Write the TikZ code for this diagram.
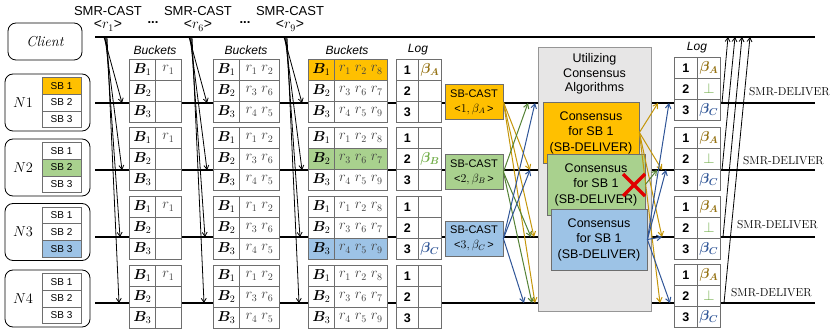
\documentclass[tikz,border=0pt]{standalone}
\usepackage{amsmath}
\usepackage{bm}
\usepackage{fontspec}
\newfontfamily\sansfnt{Liberation Sans}
\usetikzlibrary{
  arrows.meta,
  positioning
}
\definecolor{sb1}{RGB}{255, 192, 0}
\definecolor{sb2}{RGB}{169, 209, 142}
\definecolor{sb3}{RGB}{157, 195, 230}
\definecolor{betaA}{RGB}{150, 115, 20}
\definecolor{betaB}{RGB}{112, 173, 71}
\definecolor{betaC}{RGB}{47, 85, 151}
\definecolor{arrA}{RGB}{196, 150, 10}
\definecolor{arrB}{RGB}{84, 130, 53}
\definecolor{arrC}{RGB}{47, 85, 151}
\definecolor{utilfill}{RGB}{231, 230, 230}
\definecolor{utildraw}{RGB}{150, 150, 150}
\definecolor{tabgray}{RGB}{110, 110, 110}
\definecolor{reqgray}{RGB}{65, 65, 65}
\definecolor{crossred}{RGB}{225, 0, 0}
\tikzset{
  % time lines of the client and the nodes
  timeline/.style   = {line width=1.6pt, black},
  % arrows
  castarrow/.style  = {-{Straight Barb[length=4pt,width=5pt]}, line width=0.8pt, black},
  sbarrow/.style    = {-{Straight Barb[length=4.5pt,width=5.5pt]}, line width=1pt},
  % boxes
  roundbox/.style   = {draw=black, rounded corners=8pt, fill=white, line width=0.8pt},
  sbcell/.style     = {draw=tabgray, fill=white, minimum width=39pt, minimum height=16.7pt,
                       inner sep=0pt, font=\sansfnt\fontsize{10}{12}\selectfont},
  cell/.style       = {draw=tabgray, fill=white, minimum height=21pt, inner sep=0pt,
                       anchor=north west, line width=0.8pt, font=\fontsize{14}{16}\selectfont},
  valcell/.style    = {cell, font=\fontsize{14.4}{16}\selectfont},
  numcell/.style    = {cell, font=\sansfnt\bfseries\fontsize{12.5}{14}\selectfont},
  castbox/.style    = {draw=tabgray, line width=0.8pt, minimum width=58pt, minimum height=35pt,
                       align=center, inner sep=1pt, font=\sansfnt\fontsize{11}{15}\selectfont},
  consbox/.style    = {draw=tabgray, line width=0.8pt, minimum width=96pt, minimum height=61pt,
                       align=center, inner sep=1pt, font=\sansfnt\fontsize{12.5}{15.5}\selectfont},
  % labels
  headlab/.style    = {font=\sansfnt\fontsize{13}{15}\selectfont, inner sep=0pt},
  tablab/.style     = {font=\sansfnt\itshape\fontsize{12}{14}\selectfont, inner sep=0pt},
  dellab/.style     = {font=\fontsize{11.5}{13}\selectfont, inner sep=0pt, anchor=west},
}
\newcommand\betacell[1]{\ifcase#1\or\textcolor{betaA}{$\bm{\beta}_{\bm{A}}$}\or
  \textcolor{betaB}{$\bm{\beta}_{\bm{B}}$}\or\textcolor{betaC}{$\bm{\beta}_{\bm{C}}$}\fi}

\begin{document}
\begin{tikzpicture}[x=1pt, y=-1pt]
  \useasboundingbox (0,0) rectangle (831,331);
  % Client line
  \coordinate (cls) at (95,37);
  \coordinate (cle) at (815,37);
  \draw[timeline] (cls) -- (cle);
  \node[roundbox, minimum width=74pt, minimum height=37pt,
        font=\itshape\fontsize{14.4}{16}\selectfont] (client) at (45,41.5) {Client};

  % Header texts
  \foreach \h/\x/\r in {a/108/1, b/198/6, c/290/9} {
    \node[headlab] (cast\h) at (\x,11) {SMR-CAST};
    \node[headlab, font=\sansfnt\fontsize{14}{15}\selectfont] (req\h) at (\x,26) {<$r_\r$>};
  }
  \node[headlab] (dotsa) at (153,23) {\textbf{...}};
  \node[headlab] (dotsb) at (245,23) {\textbf{...}};

  % Nodes N1 ... N4 with their tables
  \foreach \n/\ly/\ty/\cy/\ry in {1/103/59/102.5/57, 2/170/127/167.5/127,
                                  3/237/196/232/196, 4/303/265/298.5/264} {
    \coordinate (l\n s) at (95,\ly);
    \coordinate (l\n e) at (815,\ly);
    \draw[timeline] (l\n s) -- (l\n e);
    \node[roundbox, minimum width=85pt, minimum height=57pt] (nb\n) at (47.5,\cy) {};
    \node[font=\fontsize{14.4}{16}\selectfont] (nl\n) at (23,\cy) {$N\n$};
    \foreach \r in {1,2,3} {
      \ifnum\n=\r \def\hl{sb\n}\else\def\hl{white}\fi
      \pgfmathsetmacro\sy{\cy-25+16.7*(\r-0.5)}
      \node[sbcell, fill=\hl] (sb\n\r) at (61.5,\sy) {SB \r};
    }
    \foreach \r/\va/\vb/\vc in {1/r_1/r_1\;r_2/r_1\;r_2\;r_8,
                                2//r_3\;r_6/r_3\;r_6\;r_7,
                                3//r_4\;r_5/r_4\;r_5\;r_9} {
      \ifnum\n=\r \def\hl{sb\n}\else\def\hl{white}\fi
      \pgfmathsetmacro\yy{\ty+21*(\r-1)}
      \pgfmathsetmacro\yr{\ry+21*(\r-1)}
      % buckets after r1, r6 and r9
      \node[cell, minimum width=26pt] (ta\n\r) at (129,\yy) {$\bm{B}_\r$};
      \node[valcell, minimum width=26pt] (tav\n\r) at (155,\yy) {\textcolor{reqgray}{$\va$}};
      \node[cell, minimum width=26pt] (tb\n\r) at (213,\yy) {$\bm{B}_\r$};
      \node[valcell, minimum width=40pt] (tbv\n\r) at (239,\yy) {\textcolor{reqgray}{$\vb$}};
      \node[cell, minimum width=26pt, fill=\hl] (tc\n\r) at (308,\yy) {$\bm{B}_\r$};
      \node[valcell, minimum width=53pt, fill=\hl] (tcv\n\r) at (334,\yy) {\textcolor{reqgray}{$\vc$}};
      % logs
      \node[numcell, minimum width=22pt] (lg\n\r) at (396,\yy) {\r};
      \node[valcell, minimum width=23pt] (lgv\n\r) at (418,\yy) {\ifnum\n=\r\betacell{\n}\fi};
      \node[numcell, minimum width=23pt] (rl\n\r) at (674,\yr) {\r};
      \node[valcell, minimum width=23pt] (rlv\n\r) at (697,\yr)
        {\ifcase\r\or\betacell{1}\or\textcolor{betaB}{$\bot$}\or\betacell{3}\fi};
    }
  }
  \node[tablab] (bkta) at (155,50) {Buckets};
  \node[tablab] (bktb) at (246,50) {Buckets};
  \node[tablab] (bktc) at (347,50) {Buckets};
  \node[tablab] (loga) at (418,50) {Log};
  \node[tablab] (logb) at (697,48) {Log};

  % SB-CAST boxes
  \foreach \n/\cy/\g in {1/102/A, 2/172/B, 3/238.5/C}
    \node[castbox, fill=sb\n] (sbc\n) at (474,\cy)
      {SB-CAST\\<{\fontsize{12}{15}\selectfont$\n, \beta_\g$}\,>};

  % Consensus part
  \node[draw=utildraw, fill=utilfill, line width=0.8pt, minimum width=113pt,
        minimum height=264pt] (util) at (594.5,179) {};
  \node[font=\sansfnt\fontsize{12.5}{14.5}\selectfont, align=center] (utiltxt)
    at (594.5,74) {Utilizing\\Consensus\\Algorithms};
  \node[consbox, fill=sb1] (consA) at (591,132.5) {Consensus\\for SB 1\\(SB-DELIVER)};
  \node[consbox, fill=sb2, minimum width=98pt] (consB) at (596,184.5) {Consensus\\for SB 1\\(SB-DELIVER)};
  \node[consbox, fill=sb3] (consC) at (599,239.5) {Consensus\\for SB 1\\(SB-DELIVER)};

  % SMR-CAST arrows from the client
  \foreach \g/\xs in {a/104, b/189, c/284}
    \foreach \n/\ly/\ds/\de in {1/103/0/18, 2/170/1/18, 3/237/2/16, 4/303/3/15} {
      \coordinate (s\g\n) at (\xs+\ds,37);
      \coordinate (e\g\n) at (\xs+\de,\ly);
      \draw[castarrow] (s\g\n) -- (e\g\n);
    }

  % SB-CAST arrows
  \foreach \s/\d/\xe/\ye/\col in {1/2/530/170/arrA, 1/3/534/237/arrA, 1/4/535/303/arrA,
                                  2/1/528/103/arrB, 2/3/531/237/arrB, 2/4/532/303/arrB,
                                  3/1/535/103/arrC, 3/2/530/170/arrC, 3/4/524/303/arrC} {
    \coordinate (sbe\s\d) at (\xe,\ye);
    \draw[sbarrow, \col] (sbc\s.east) -- (sbe\s\d);
  }

  % SB-DELIVER arrows
  \foreach \s/\d/\xe/\ye/\col in {A/1/658/103/arrA, A/2/662/170/arrA, A/3/662/237/arrA,
                                  A/4/660/303/arrA, B/2/657/170/arrB,
                                  C/1/669/103/arrC, C/2/666/170/arrC, C/3/662/237/arrC,
                                  C/4/670/303/arrC} {
    \coordinate (cde\s\d) at (\xe,\ye);
    \draw[sbarrow, \col] (cons\s.east) -- (cde\s\d);
  }
  % failed consensus
  \draw[crossred, line width=3.5pt] (623,174) -- (645,196) (623,196) -- (645,174);

  % SMR-DELIVER
  \foreach \n/\xs/\ly/\xe/\xl/\yl in {1/722/103/728/749/92, 2/722/170/735/743/161,
                                      3/723/237/742/737/225, 4/724/303/750/731/293} {
    \coordinate (ds\n) at (\xs,\ly);
    \coordinate (de\n) at (\xe,37);
    \draw[castarrow] (ds\n) -- (de\n);
    \node[dellab] (del\n) at (\xl,\yl) {SMR-DELIVER};
  }
\end{tikzpicture}
\end{document}
